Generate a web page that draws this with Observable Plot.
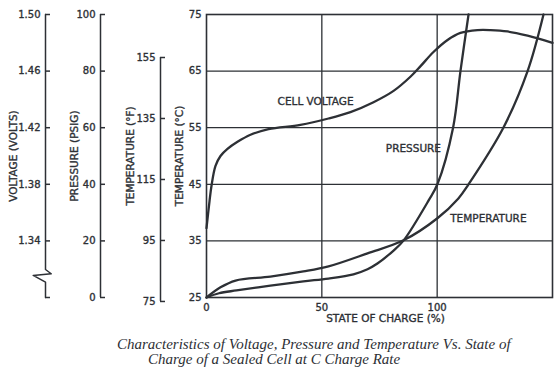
<!DOCTYPE html>
<html><head><meta charset="utf-8">
<script src="https://cdn.jsdelivr.net/npm/d3@7"></script>
<script src="https://cdn.jsdelivr.net/npm/@observablehq/plot@0.6"></script>
<style>
body{margin:0;background:#fff;}
#wrap{position:relative;width:560px;height:330px;}
#wrap svg{position:absolute;left:0;top:0;}
#wrap svg text{stroke:#2d3035;stroke-width:0.35px;}
.cap{font-family:"Liberation Serif",serif;font-style:italic;font-size:15px;color:#2d3035;line-height:15px;padding-top:7px;}
</style></head><body>
<div id="wrap"></div>
<div class="cap">
<div style="padding-left:117px">Characteristics of Voltage, Pressure and Temperature Vs. State of</div>
<div style="padding-left:148px">Charge of a Sealed Cell at C Charge Rate</div>
</div>
<script>
// ---- data ----
const socTicks = [0, 50, 100];
const socDomain = [0, 150];
const tempCDomain = [25, 75];
const tempCTicks = [25, 35, 45, 55, 65, 75];
const voltDomain = [1.30, 1.50];
const voltTicks = [1.30, 1.34, 1.38, 1.42, 1.46, 1.50];
const voltLabelTicks = [1.34, 1.38, 1.42, 1.46, 1.50];
const pressDomain = [0, 100];
const pressTicks = [0, 20, 40, 60, 80, 100];
const tempFDomain = [76.3, 169.1];
const tempFTicks = [75, 95, 115, 135, 155];

const voltageSoc = [0, 1.3, 2.17, 3.9, 6.07, 9.1, 13.44, 19.07, 26.9, 40.7, 52.9, 62.4, 72.4, 81.1, 88.4, 92.8, 98.4, 104.5, 110.1, 117.5, 123.1, 130.5, 139.2, 150];
const voltageVolts = [1.349, 1.368, 1.379, 1.393, 1.400, 1.405, 1.410, 1.415, 1.419, 1.422, 1.4265, 1.431, 1.438, 1.446, 1.456, 1.4635, 1.4735, 1.482, 1.487, 1.489, 1.489, 1.488, 1.485, 1.480];

const pressureSoc = [0, 5.42, 13.0, 27.7, 42.0, 52.9, 63.7, 69.8, 74.1, 81.1, 85.4, 96.3, 100.1, 106.9, 110.1, 113.6];
const pressurePsig = [0, 1.5, 2.5, 4.2, 5.7, 6.7, 8.2, 10.0, 12, 16.6, 20.1, 34.3, 40, 60, 80, 100];

const tempSoc = [0, 6.07, 12.6, 27.7, 42.0, 52.9, 69.8, 85.4, 100.1, 109.2, 113.6, 128.7, 139.2, 146.1];
const tempC = [25, 26.8, 28.0, 28.7, 29.6, 30.5, 32.8, 35.1, 39.0, 42.5, 45, 55, 65, 75];

const curveLabels = ["CELL VOLTAGE", "PRESSURE", "TEMPERATURE"];
const curveLabelSoc = [47.3, 89.7, 122.2];
const curveLabelTemp = [59.6, 51.3, 39.0];

// voltage axis break shape (x in tick-length units, y in volts)
const voltAxisX = [0, 0, 1.14, -2.46, 0, 0];
const voltAxisV = [1.50, 1.3198, 1.3168, 1.3156, 1.3108, 1.30];

// ---- layout ----
const W = 560, H = 330, MT = 14, MB = 33;
const ink = "#2d3035";
const font = {fontFamily: "DejaVu Sans, sans-serif", fontSize: "10px", color: ink, background: "transparent", overflow: "visible"};

// map other units onto the °C position scale
const lin = (dom) => (v) => tempCDomain[0] + (v - dom[0]) / (dom[1] - dom[0]) * (tempCDomain[1] - tempCDomain[0]);
const vPos = lin(voltDomain), pPos = lin(pressDomain);

const voltage = voltageSoc.map((s, i) => ({soc: s, y: vPos(voltageVolts[i])}));
const pressure = pressureSoc.map((s, i) => ({soc: s, y: pPos(pressurePsig[i])}));
const temperature = tempSoc.map((s, i) => ({soc: s, y: tempC[i]}));
const labels = curveLabels.map((t, i) => ({t, soc: curveLabelSoc[i], y: curveLabelTemp[i]}));

const wrap = document.getElementById("wrap");

const main = Plot.plot({
  width: W, height: H, marginTop: MT, marginBottom: MB, marginLeft: 206, marginRight: 8,
  style: font,
  x: {domain: socDomain},
  y: {domain: tempCDomain},
  marks: [
    Plot.ruleX(socTicks.slice(1), {stroke: ink, strokeWidth: 1.3}),
    Plot.ruleY(tempCTicks.slice(1, -1), {stroke: ink, strokeWidth: 1.3}),
    Plot.frame({stroke: ink, strokeWidth: 1.6}),
    Plot.line(voltage, {x: "soc", y: "y", curve: "catmull-rom", stroke: ink, strokeWidth: 2.3}),
    Plot.line(pressure, {x: "soc", y: "y", curve: "catmull-rom", stroke: ink, strokeWidth: 2.3}),
    Plot.line(temperature, {x: "soc", y: "y", curve: "catmull-rom", stroke: ink, strokeWidth: 2.3}),
    Plot.text(labels, {x: "soc", y: "y", text: "t", fontSize: 10.5, fill: ink}),
    Plot.axisY(tempCTicks, {tickSize: 0, tickPadding: 5, label: null, fill: ink}),
    Plot.axisX(socTicks, {tickSize: 0, tickPadding: 6, label: null, fill: ink}),
    Plot.text(["TEMPERATURE (°C)"], {frameAnchor: "left", rotate: -90, dx: -27, textAnchor: "middle", fill: ink, fontSize: 10.5}),
    Plot.text(["STATE OF CHARGE (%)"], {frameAnchor: "bottom", dy: 24, dx: 6, textAnchor: "middle", fill: ink, fontSize: 10.5})
  ]
});
wrap.appendChild(main);

function axisPlot(axisX, domain, ticks, labelTicks, fmt, title, titleDx, lineMarks) {
  return Plot.plot({
    width: W, height: H, marginTop: MT, marginBottom: MB, marginLeft: axisX, marginRight: W - axisX - 5,
    style: font,
    x: {domain: [0, 1], axis: null},
    y: {domain},
    marks: [
      ...lineMarks,
      Plot.tickY(ticks, {stroke: ink, strokeWidth: 1.5}),
      Plot.axisY(labelTicks, {tickSize: 0, tickPadding: 5, tickFormat: fmt, label: null, fill: ink}),
      Plot.text([title], {frameAnchor: "left", rotate: -90, dx: titleDx, textAnchor: "middle", fill: ink, fontSize: 10.5})
    ]
  });
}

const voltAxisLine = voltAxisX.map((x, i) => ({x, v: voltAxisV[i]}));
wrap.appendChild(axisPlot(45, voltDomain, voltTicks, voltLabelTicks, (d) => d.toFixed(2), "VOLTAGE (VOLTS)", -32,
  [Plot.line(voltAxisLine, {x: "x", y: "v", stroke: ink, strokeWidth: 1.5})]));
wrap.appendChild(axisPlot(100, pressDomain, pressTicks, pressTicks, (d) => String(d), "PRESSURE (PSIG)", -26,
  [Plot.ruleX([0], {y1: pressDomain[0], y2: pressDomain[1], stroke: ink, strokeWidth: 1.5})]));
wrap.appendChild(axisPlot(160, tempFDomain, tempFTicks, tempFTicks, (d) => String(d), "TEMPERATURE (°F)", -30,
  [Plot.ruleX([0], {y1: tempFTicks[0], y2: tempFTicks[tempFTicks.length - 1], stroke: ink, strokeWidth: 1.5})]));
</script>
</body></html>
